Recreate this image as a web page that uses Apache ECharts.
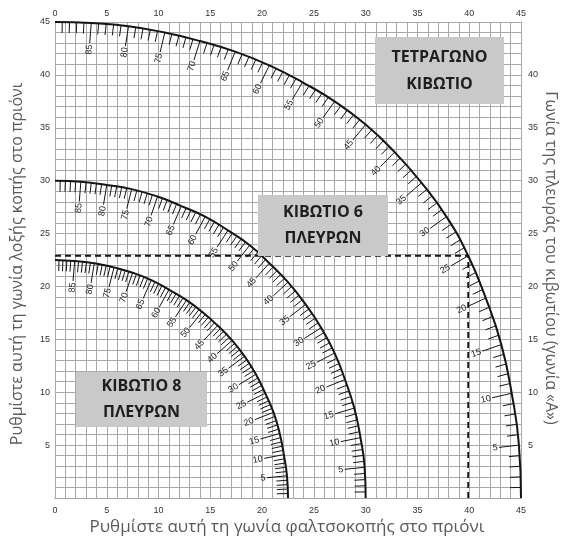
<!DOCTYPE html>
<html>
<head>
<meta charset="utf-8">
<script src="https://cdn.jsdelivr.net/npm/echarts@6/dist/echarts.min.js"></script>
<style>
  html, body { margin: 0; padding: 0; background: #fff; }
  #chart { width: 569px; height: 540px; }
</style>
</head>
<body>
<div id="chart"></div>
<script>
// box side angle "A" at each numbered tick (0 = bevel end, 90 = miter end)
const sideAngles = [0, 5, 10, 15, 20, 25, 30, 35, 40, 45, 50, 55, 60, 65, 70, 75, 80, 85, 90]

// [bevel, miter] at each numbered tick
const squareBox = [
  [45.0, 0.0], [44.8, 5.0], [44.1, 9.9], [43.1, 14.5], [41.6, 18.9], [39.9, 22.9],
  [37.8, 26.6], [35.4, 29.8], [32.8, 32.7], [30.0, 35.3], [27.0, 37.5], [23.9, 39.3],
  [20.7, 40.9], [17.4, 42.2], [14.0, 43.2], [10.6, 44.0], [7.1, 44.6], [3.5, 44.9], [0.0, 45.0]
]
const hexBox = [
  [30.0, 0.0], [29.9, 2.9], [29.5, 5.7], [28.9, 8.5], [28.0, 11.2], [27.0, 13.7],
  [25.7, 16.1], [24.2, 18.3], [22.5, 20.4], [20.7, 22.2], [18.8, 23.9], [16.7, 25.3],
  [14.5, 26.6], [12.2, 27.6], [9.9, 28.5], [7.4, 29.2], [5.0, 29.6], [2.5, 29.9], [0.0, 30.0]
]
const octBox = [
  [22.5, 0.0], [22.4, 2.1], [22.1, 4.1], [21.7, 6.1], [21.1, 8.1], [20.3, 9.9],
  [19.4, 11.7], [18.3, 13.4], [17.1, 14.9], [15.7, 16.3], [14.2, 17.6], [12.7, 18.7],
  [11.0, 19.7], [9.3, 20.6], [7.5, 21.3], [5.7, 21.8], [3.8, 22.2], [1.9, 22.4], [0.0, 22.5]
]

// worked example: square box, A = 25
const guidePoint = [39.9, 22.9]

const boxNames = ['ΤΕΤΡΑΓΩΝΟ\nΚΙΒΩΤΙΟ', 'ΚΙΒΩΤΙΟ 6\nΠΛΕΥΡΩΝ', 'ΚΙΒΩΤΙΟ 8\nΠΛΕΥΡΩΝ']
const xTitle = 'Ρυθμίστε αυτή τη γωνία φαλτσοκοπής στο πριόνι'
const yTitle = 'Ρυθμίστε αυτή τη γωνία λοξής κοπής στο πριόνι'
const y2Title = 'Γωνία της πλευράς του κιβωτίου (γωνία «Α»)'

const GRID_COLOR = '#a8a8a8'
const INK = '#151515'
const LABEL_FONT = 'Liberation Sans, Arial, sans-serif'

// one degree scale marks along the curve, a numbered mark every 5
function scaleItem(pts) {
  return function (params, api) {
    const i = params.dataIndex
    if (i >= pts.length - 1) return null
    const o = api.coord([0, 0])
    const a = pts[i], b = pts[i + 1]
    const ra = Math.hypot(a[0], a[1]), rb = Math.hypot(b[0], b[1])
    const ta = Math.atan2(a[1], a[0]), tb = Math.atan2(b[1], b[0])
    const children = []
    for (let k = 0; k < 5; k++) {
      const deg = sideAngles[i] + k
      if (deg < 1 || deg > 89) continue
      const f = k / 5
      const r = ra + (rb - ra) * f
      const t = ta + (tb - ta) * f
      const p = api.coord([r * Math.cos(t), r * Math.sin(t)])
      const dx = o[0] - p[0], dy = o[1] - p[1]
      const len = Math.hypot(dx, dy)
      const ux = dx / len, uy = dy / len
      const major = k === 0
      const tl = major ? 20 : 11
      children.push({
        type: 'line',
        shape: { x1: p[0], y1: p[1], x2: p[0] + ux * tl, y2: p[1] + uy * tl },
        style: { stroke: INK, lineWidth: 1 }
      })
      if (major) {
        children.push({
          type: 'text',
          x: p[0] + ux * (tl + 1.5),
          y: p[1] + uy * (tl + 1.5),
          rotation: Math.atan2(dy, -dx),
          style: {
            text: String(deg),
            fill: '#222',
            font: '9px ' + LABEL_FONT,
            align: 'right',
            verticalAlign: 'middle'
          }
        })
      }
    }
    return { type: 'group', children }
  }
}

function curveSeries(pts) {
  return [
    {
      type: 'line',
      data: pts,
      smooth: 0.5,
      showSymbol: false,
      silent: true,
      lineStyle: { color: INK, width: 2 },
      z: 4
    },
    {
      type: 'custom',
      data: pts,
      renderItem: scaleItem(pts),
      silent: true,
      z: 4
    }
  ]
}

function boxLabel(left, top, w, h, text, lh) {
  return [
    { type: 'rect', left, top, shape: { width: w, height: h }, style: { fill: '#c9c9c9' }, z: 10 },
    {
      type: 'text',
      x: left + w / 2,
      y: top + h / 2,
      style: {
        text,
        fill: '#1e1e1e',
        font: 'bold 16px "Open Sans", sans-serif',
        align: 'center',
        verticalAlign: 'middle',
        lineHeight: lh
      },
      z: 11
    }
  ]
}

const axisLabel = { color: '#333', fontSize: 9, fontFamily: LABEL_FONT }

const chart = echarts.init(document.getElementById('chart'))
chart.setOption({
  animation: false,
  grid: { left: 55, right: 48, top: 22, bottom: 42, outerBoundsMode: 'none' },
  xAxis: [
    {
      type: 'value', min: 0, max: 45, interval: 5, position: 'bottom',
      axisLine: { show: true, lineStyle: { color: GRID_COLOR } },
      axisTick: { show: false },
      axisLabel: { ...axisLabel, margin: 8 },
      splitLine: { show: true, lineStyle: { color: GRID_COLOR, width: 1 } },
      minorTick: { show: false, splitNumber: 5 },
      minorSplitLine: { show: true, lineStyle: { color: GRID_COLOR, width: 1 } }
    },
    {
      type: 'value', min: 0, max: 45, interval: 5, position: 'top',
      axisLine: { show: true, lineStyle: { color: GRID_COLOR } },
      axisTick: { show: false },
      axisLabel: { ...axisLabel, margin: 4 },
      splitLine: { show: false }
    }
  ],
  yAxis: [
    {
      type: 'value', min: 0, max: 45, interval: 5, position: 'left',
      axisLine: { show: true, lineStyle: { color: GRID_COLOR } },
      axisTick: { show: false },
      axisLabel: { ...axisLabel, margin: 5, formatter: v => (v === 0 ? '' : v) },
      splitLine: { show: true, lineStyle: { color: GRID_COLOR, width: 1 } },
      minorTick: { show: false, splitNumber: 5 },
      minorSplitLine: { show: true, lineStyle: { color: GRID_COLOR, width: 1 } }
    },
    {
      type: 'value', min: 0, max: 45, interval: 5, position: 'right',
      axisLine: { show: true, lineStyle: { color: GRID_COLOR } },
      axisTick: { show: false },
      axisLabel: { ...axisLabel, margin: 7, formatter: v => (v === 0 || v === 45 ? '' : v) },
      splitLine: { show: false }
    }
  ],
  graphic: [
    ...boxLabel(375, 37, 129, 67, boxNames[0], 27),
    ...boxLabel(258, 195, 130, 61, boxNames[1], 26),
    ...boxLabel(76, 372, 131, 55, boxNames[2], 26),
    {
      type: 'text', x: 287, y: 527,
      style: { text: xTitle, fill: '#5a5a5a', font: '17px "Open Sans", sans-serif', align: 'center', verticalAlign: 'middle' }
    },
    {
      type: 'text', x: 17, y: 264, rotation: Math.PI / 2,
      style: { text: yTitle, fill: '#5a5a5a', font: '16px "Open Sans", sans-serif', align: 'center', verticalAlign: 'middle' }
    },
    {
      type: 'text', x: 551, y: 258, rotation: -Math.PI / 2,
      style: { text: y2Title, fill: '#5a5a5a', font: '16px "Open Sans", sans-serif', align: 'center', verticalAlign: 'middle' }
    }
  ],
  series: [
    {
      type: 'line',
      data: [[0, guidePoint[1]], guidePoint],
      showSymbol: false,
      silent: true,
      lineStyle: { color: INK, width: 1.8, type: [6, 4] },
      z: 3
    },
    {
      type: 'line',
      data: [[guidePoint[0], 0], guidePoint],
      showSymbol: false,
      silent: true,
      lineStyle: { color: INK, width: 1.8, type: [6, 4] },
      z: 3
    },
    ...curveSeries(squareBox),
    ...curveSeries(hexBox),
    ...curveSeries(octBox)
  ]
})
</script>
</body>
</html>
